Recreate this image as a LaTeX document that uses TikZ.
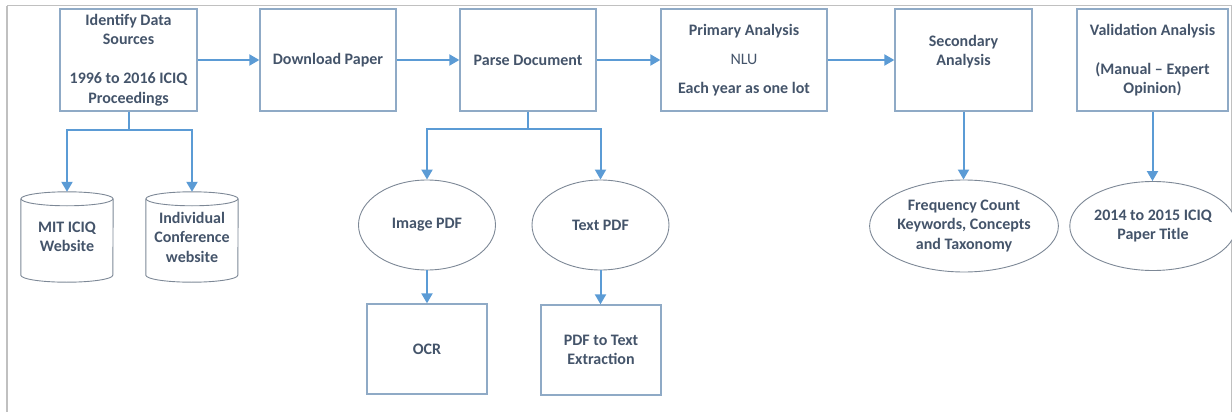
\documentclass[tikz,border=0pt]{standalone}
\usepackage{fontspec}
\setmainfont{Carlito}
\usetikzlibrary{arrows.meta,shapes.geometric,calc}
\definecolor{txt}{RGB}{68,84,106}
\definecolor{boxline}{RGB}{143,170,198}
\definecolor{ovalline}{RGB}{125,136,150}
\definecolor{flow}{RGB}{91,155,213}
\definecolor{frame}{RGB}{192,192,192}
\pgfdeclareradialshading{softoval}{\pgfpoint{0bp}{0bp}}{%
  color(0bp)=(white); color(24bp)=(white);
  color(50bp)=(rgb,255:red,224;green,228;blue,234); color(60bp)=(rgb,255:red,224;green,228;blue,234)}
\tikzset{
  lbl/.style={font=\fontsize{16}{19.5}\selectfont\bfseries, text=txt, align=center, inner sep=0pt},
  stepbox/.style={lbl, draw=boxline, line width=1.3pt, rectangle},
  oval/.style={lbl, draw=ovalline, line width=0.9pt, ellipse},
  dbnode/.style={lbl, rectangle, minimum width=92pt, minimum height=90pt},
  dbline/.style={draw=ovalline, line width=0.9pt},
  conn/.style={draw=flow, line width=2pt, -{Triangle[width=11pt,length=10pt]}},
}
\begin{document}
\begin{tikzpicture}[x=1pt,y=-1pt]
\useasboundingbox (0,0) rectangle (1232,412);
% page frame
\draw[frame, line width=2pt] (7,6) -- (7,412);
\draw[frame, line width=1pt] (7,6) -- (1231,6) -- (1231,412);

% top row of process steps
\node[stepbox, minimum width=137pt, minimum height=102pt] (ids) at (128.5,60)
  {Identify Data\\Sources\\\mbox{}\\1996 to 2016 ICIQ\\Proceedings};
\node[stepbox, minimum width=136pt, minimum height=102pt] (dl) at (328,60) {Download Paper};
\node[stepbox, minimum width=136pt, minimum height=102pt] (pd) at (528,60) {Parse Document};
\node[stepbox, minimum width=166pt, minimum height=102pt] (pa) at (744,60)
  {Primary Analysis\\[10pt]{\mdseries NLU}\\[9pt]Each year as one lot};
\node[stepbox, minimum width=137pt, minimum height=102pt] (sa) at (963.5,60)
  {Secondary\\Analysis\\\mbox{}};
\node[stepbox, minimum width=151pt, minimum height=102pt] (va) at (1152.5,60)
  {Validation Analysis\\\mbox{}\\(Manual – Expert\\Opinion)};

% data sources (cylinders)
\node[dbnode] (mit) at (67,237) {MIT ICIQ\\Website};
\node[dbnode] (ind) at (192,237) {Individual\\Conference\\website};
\foreach \n in {mit,ind} {
  \draw[dbline] ($(\n.north)+(0,7)$) ellipse [x radius=46, y radius=7];
  \draw[dbline] ($(\n.north west)+(0,7)$) -- ($(\n.south west)+(0,-7)$)
    arc[start angle=180, end angle=0, x radius=46, y radius=7]
    -- ($(\n.north east)+(0,7)$);
}

% document types and extraction
\node[oval, minimum width=137pt, minimum height=90pt] (img) at (427,225) {Image PDF};
\node[oval, minimum width=137pt, minimum height=90pt] (tpdf) at (600.5,225) {Text PDF};
\node[stepbox, minimum width=120pt, minimum height=90pt] (ocr) at (427,349) {OCR};
\node[stepbox, minimum width=120pt, minimum height=90pt] (pte) at (601,350)
  {PDF to Text\\Extraction};

% analysis results
\node[oval, minimum width=185pt, minimum height=92pt] (freq) at (964,226)
  {Frequency Count\\Keywords, Concepts\\and Taxonomy};
\node[oval, shading=softoval, minimum width=151pt, minimum height=89pt]
  (title) at (1153,226) {2014 to 2015 ICIQ\\Paper Title};

% main flow
\draw[conn] (ids) -- (dl);
\draw[conn] (dl) -- (pd);
\draw[conn] (pd) -- (pa);
\draw[conn] (pa) -- (sa);

% branches
\draw[conn] (ids.south) -- ++(0,18) -| (mit.north);
\draw[conn] (ids.south) -- ++(0,18) -| (ind.north);
\draw[conn] (pd.south) -- ++(0,17) -| (img.north);
\draw[conn] (pd.south) -- ++(0,17) -| (tpdf.north);
\draw[conn] (img.south) -- (ocr.north);
\draw[conn] (tpdf.south) -- (tpdf.south |- pte.north);
\draw[conn] (sa.south) -- (sa.south |- freq.north);
\draw[conn] (va.south) -- (va.south |- title.north);
\end{tikzpicture}
\end{document}
